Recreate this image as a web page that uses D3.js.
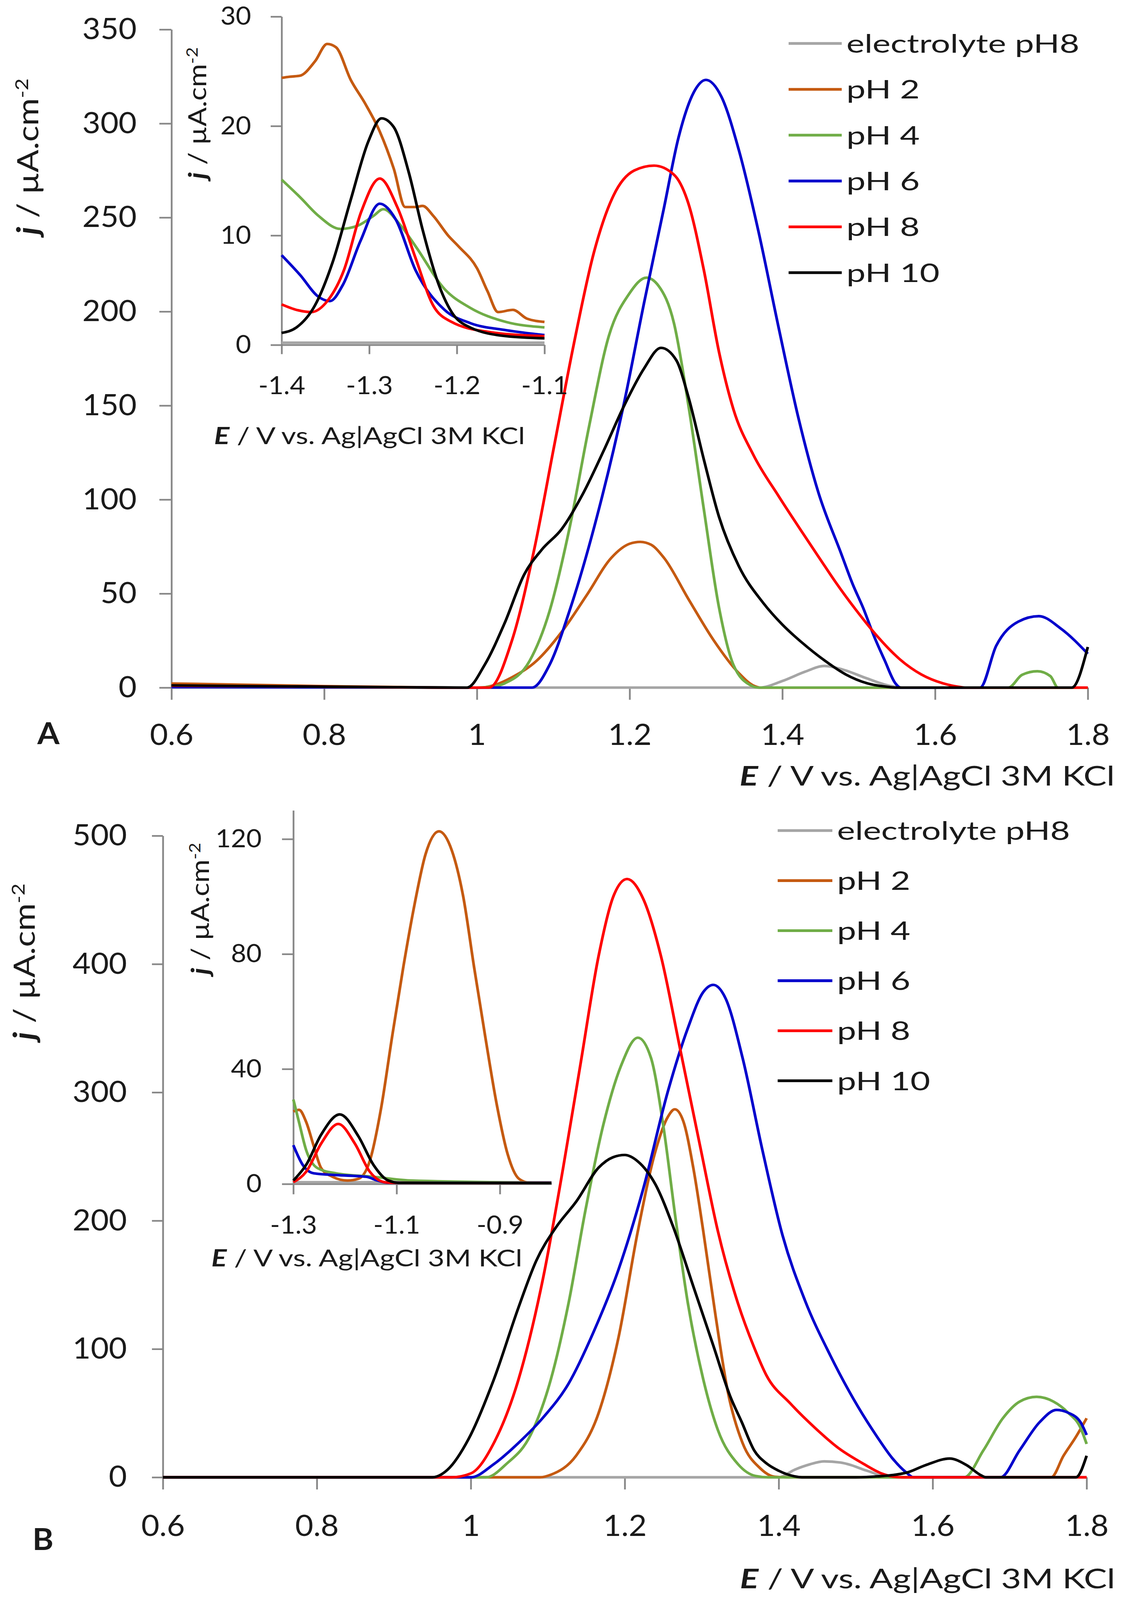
<!DOCTYPE html>
<html>
<head>
<meta charset="utf-8">
<script src="https://cdn.jsdelivr.net/npm/d3@7"></script>
<style>
  html, body { margin: 0; padding: 0; background: #fff; overflow: hidden; }
  svg { display: block; width: 100vw; height: 100vh; }
  text { font-family: Lato, "Open Sans", sans-serif; fill: #1a1a1a; }
</style>
</head>
<body>
<svg id="chart" viewBox="0 0 2870 4342" preserveAspectRatio="none"></svg>
<script>
// DPV curves, current density j (uA/cm2) vs potential E (V vs Ag|AgCl)

const seriesNames = ["electrolyte pH8", "pH 2", "pH 4", "pH 6", "pH 8", "pH 10"];
const seriesColors = ["#a5a5a5", "#c55a11", "#70ad47", "#0000cc", "#ff0000", "#000000"];

// ---- panel A, main plot (oxidation)
const aGray = [[0.6,0],[1.37,0],[1.40,3.5],[1.43,8.5],[1.455,11.5],[1.48,9.5],[1.51,5],[1.54,1],[1.56,0],[1.8,0]];
const aPH2 = [[0.6,2.2],[0.7,1.5],[0.8,0.8],[0.9,0.3],[0.97,0],[1.005,0],[1.02,1],[1.046,5.5],[1.078,14.2],[1.111,29.6],[1.144,49.3],[1.176,69],[1.2,76.5],[1.214,77.5],[1.228,76],[1.245,69],[1.277,47.1],[1.31,25.2],[1.343,7.7],[1.362,1.1],[1.372,0],[1.8,0]];
const aPH4 = [[0.6,0.5],[0.9,0.1],[1.0,0],[1.02,0.5],[1.036,2.2],[1.069,14.2],[1.095,40.5],[1.121,84.3],[1.147,139.1],[1.173,187.3],[1.199,209.2],[1.222,218],[1.238,213.6],[1.258,193.9],[1.277,150.1],[1.297,95.3],[1.317,42.7],[1.336,12],[1.359,1.1],[1.369,0],[1.696,0],[1.714,6.8],[1.734,8.7],[1.751,6.1],[1.761,0],[1.8,0]];
const aPH6 = [[0.6,0.3],[0.9,0.1],[1.0,0],[1.072,0],[1.095,12],[1.121,40.5],[1.16,95.3],[1.192,150],[1.219,204.8],[1.245,255.2],[1.264,292.5],[1.284,316.6],[1.3,323.2],[1.32,314.4],[1.343,285.9],[1.369,242.1],[1.395,191.7],[1.421,143.5],[1.447,104],[1.477,71.3],[1.492,55.1],[1.506,42.2],[1.52,27.4],[1.534,14.5],[1.548,2.3],[1.555,0],[1.659,0],[1.68,22.2],[1.709,35.1],[1.736,38],[1.765,31.3],[1.8,18]];
const aPH8 = [[0.6,1],[0.8,0.5],[0.95,0],[1.016,0],[1.046,25.2],[1.075,73.4],[1.101,128.2],[1.127,182.9],[1.153,231.1],[1.179,261.8],[1.206,275],[1.232,277.6],[1.258,272.8],[1.277,257.4],[1.297,222.4],[1.317,178.6],[1.336,147.9],[1.362,123.8],[1.395,101.9],[1.427,82],[1.45,68],[1.469,56.5],[1.497,41],[1.525,27],[1.554,15],[1.582,7],[1.61,2.3],[1.633,0.3],[1.64,0],[1.8,0]];
const aPH10 = [[0.6,1.2],[0.7,0.8],[0.8,0.5],[0.9,0.2],[0.987,0],[1.01,12],[1.036,34],[1.062,60.2],[1.085,73.4],[1.111,84.3],[1.14,104],[1.166,126],[1.193,150.1],[1.219,169.8],[1.241,180.7],[1.261,174.2],[1.277,154.5],[1.297,121.6],[1.317,90.9],[1.343,64.6],[1.375,45],[1.4,33.5],[1.427,23.5],[1.455,14.5],[1.483,7],[1.511,2.3],[1.54,0.3],[1.55,0],[1.779,0],[1.8,21.6]];

// ---- panel A, inset (reduction)
const aiGray = [[-1.4,0.2],[-1.1,0.2]];
const aiPH2 = [[-1.4,24.4],[-1.391,24.5],[-1.379,24.6],[-1.362,25.9],[-1.348,27.5],[-1.338,27.2],[-1.321,24.2],[-1.305,22.1],[-1.288,19.5],[-1.272,16.1],[-1.259,12.6],[-1.247,12.6],[-1.239,12.7],[-1.227,11.8],[-1.21,10],[-1.198,9],[-1.177,7],[-1.165,4.9],[-1.153,3],[-1.136,3.2],[-1.12,2.4],[-1.1,2.1]];
const aiPH4 = [[-1.4,15.1],[-1.379,13.5],[-1.358,11.8],[-1.333,10.6],[-1.313,10.9],[-1.295,11.8],[-1.284,12.4],[-1.265,11],[-1.247,9],[-1.214,5.1],[-1.185,3.4],[-1.144,2.1],[-1.1,1.6]];
const aiPH6 = [[-1.4,8.2],[-1.379,6.4],[-1.358,4.4],[-1.345,4],[-1.33,5.5],[-1.31,9.5],[-1.288,12.9],[-1.27,11.5],[-1.247,6.8],[-1.214,3.2],[-1.185,2],[-1.144,1.35],[-1.1,0.9]];
const aiPH8 = [[-1.4,3.7],[-1.383,3.2],[-1.366,3],[-1.35,3.8],[-1.329,6.8],[-1.309,12.2],[-1.288,15.2],[-1.268,12.6],[-1.247,7.9],[-1.227,3.6],[-1.206,2.1],[-1.165,1.2],[-1.1,0.8]];
const aiPH10 = [[-1.4,1.1],[-1.383,1.6],[-1.362,3.6],[-1.342,7.5],[-1.321,13.3],[-1.301,18.6],[-1.286,20.7],[-1.272,19.9],[-1.255,15.8],[-1.239,10.5],[-1.222,5.8],[-1.206,3],[-1.185,1.6],[-1.144,0.8],[-1.1,0.6]];

// ---- panel B, main plot
const bGray = [[0.6,0],[1.4,0],[1.421,6],[1.44,10],[1.459,12.4],[1.48,11.5],[1.494,9.5],[1.51,6],[1.522,3.6],[1.534,0.7],[1.545,0],[1.8,0]];
const bPH2 = [[0.6,0],[1.09,0],[1.104,2],[1.137,17],[1.166,50],[1.192,109.3],[1.217,191.8],[1.24,254.5],[1.256,280.9],[1.265,286.8],[1.276,277.6],[1.289,241.3],[1.302,191.8],[1.318,125.8],[1.334,66.4],[1.353,26.8],[1.376,7],[1.395,0.4],[1.41,0],[1.754,0],[1.77,16.8],[1.786,31.4],[1.8,46]];
const bPH4 = [[0.6,0],[1.02,0],[1.046,10.3],[1.078,33.4],[1.104,76.3],[1.127,135.7],[1.149,208.3],[1.172,274.3],[1.195,320.5],[1.217,342.6],[1.234,327],[1.25,274.3],[1.266,201.7],[1.282,135.7],[1.302,76.3],[1.321,36.8],[1.347,10.3],[1.37,1],[1.386,0],[1.641,0],[1.666,21.1],[1.691,45.9],[1.713,59],[1.735,62.7],[1.757,59],[1.776,50.3],[1.792,38.6],[1.8,26]];
const bPH6 = [[0.6,0],[1.0,0],[1.03,10.3],[1.062,26.8],[1.094,46.6],[1.127,73],[1.159,112.6],[1.192,162.1],[1.224,224.8],[1.256,300.7],[1.282,350.1],[1.302,378.2],[1.315,383.8],[1.331,373.2],[1.353,327],[1.379,254.5],[1.405,188.5],[1.434,138],[1.467,95],[1.503,55],[1.528,31.4],[1.547,15.3],[1.566,3.6],[1.575,0],[1.688,0],[1.713,21.1],[1.739,43],[1.761,52.5],[1.776,50.3],[1.792,43],[1.8,33]];
const bPH8 = [[0.6,0],[0.975,0],[1.0,3],[1.03,26.8],[1.062,76.3],[1.094,155.5],[1.12,241.3],[1.143,323.8],[1.166,406.2],[1.185,452.4],[1.203,466.3],[1.224,450.8],[1.247,406.2],[1.272,333.7],[1.298,257.8],[1.321,191.8],[1.347,135.7],[1.368,101.3],[1.384,79.5],[1.415,57.6],[1.447,38.6],[1.478,22.6],[1.509,10.9],[1.534,2.9],[1.547,0.7],[1.56,0],[1.8,0]];
const bPH10 = [[0.6,0],[0.95,0],[0.97,6],[0.997,29.7],[1.03,76.3],[1.062,132.4],[1.085,168.7],[1.111,195.1],[1.137,214.9],[1.166,241.3],[1.185,249.5],[1.2,251.2],[1.217,246.2],[1.24,228.1],[1.263,195.1],[1.289,148.9],[1.315,102.7],[1.337,63.1],[1.352,43],[1.368,21.1],[1.384,10.9],[1.4,5.1],[1.421,0.7],[1.43,0],[1.5,0],[1.528,0.7],[1.566,3.6],[1.591,9.5],[1.622,14.6],[1.644,9.5],[1.663,1.5],[1.669,0],[1.786,0],[1.8,16.8]];

// ---- panel B, inset
const biGray = [[-1.3,0.6],[-0.8,0.6]];
const biPH2 = [[-1.3,25.2],[-1.289,25.8],[-1.275,21.5],[-1.26,12.9],[-1.246,5.5],[-1.224,2.5],[-1.195,1.2],[-1.174,1.8],[-1.152,8],[-1.13,26.4],[-1.109,50.9],[-1.087,75.5],[-1.065,97.5],[-1.044,114.7],[-1.018,122.7],[-0.993,116],[-0.971,100],[-0.95,75.5],[-0.928,50.9],[-0.906,27.6],[-0.885,10.4],[-0.863,1.8],[-0.842,0.4],[-0.8,0.4]];
const biPH4 = [[-1.3,29.4],[-1.289,21.5],[-1.275,11.7],[-1.253,5.5],[-1.217,3.7],[-1.145,2.5],[-1.073,1.2],[-0.8,0.4]];
const biPH6 = [[-1.3,13.5],[-1.282,6.7],[-1.26,3.7],[-1.217,3.1],[-1.159,2.5],[-1.137,1.2],[-1.116,0.4],[-0.8,0.4]];
const biPH8 = [[-1.3,0.6],[-1.275,4.3],[-1.246,14.1],[-1.213,20.9],[-1.181,14.1],[-1.152,4.3],[-1.123,0.6],[-1.109,0.4],[-0.8,0.3]];
const biPH10 = [[-1.3,1.2],[-1.275,6.7],[-1.246,17.2],[-1.21,24.2],[-1.174,16.6],[-1.145,6.7],[-1.116,1.2],[-1.094,0.4],[-0.8,0.3]];

// ---- ticks
const mainTicksE = [0.6, 0.8, 1.0, 1.2, 1.4, 1.6, 1.8];
const aTicksJ = [0, 50, 100, 150, 200, 250, 300, 350];
const bTicksJ = [0, 100, 200, 300, 400, 500];
const aiTicksE = [-1.4, -1.3, -1.2, -1.1];
const aiTicksJ = [0, 10, 20, 30];
const biTicksE = [-1.3, -1.1, -0.9];
const biTicksJ = [0, 40, 80, 120];

const AXIS = "#878787";
const TEXT = "#1a1a1a";
const svg = d3.select("#chart");

function axes(g, x, y, xTicks, yTicks, o) {
  const ya = d3.axisLeft(y).tickValues(yTicks).tickSize(o.yTick).tickSizeOuter(0)
    .tickPadding(o.yPad).tickFormat(d => d);
  const xa = d3.axisBottom(x).tickValues(xTicks).tickSize(o.xTick).tickSizeOuter(0)
    .tickPadding(o.xPad).tickFormat(d => String(+d.toFixed(1)));
  const yg = g.append("g").attr("transform", `translate(${x.range()[0]},0)`).call(ya);
  const xg = g.append("g").attr("transform", `translate(0,${y(0)})`).call(xa);
  [yg, xg].forEach(a => {
    a.attr("font-family", null).attr("font-size", null);
    a.select(".domain").attr("stroke", AXIS).attr("stroke-width", 4.5);
    a.selectAll(".tick line").attr("stroke", AXIS).attr("stroke-width", 4.5);
    a.selectAll(".tick text").attr("fill", TEXT).style("font-size", o.fs + "px");
  });
}

function curves(g, x, y, data) {
  const line = d3.line().x(d => x(d[0])).y(d => y(d[1])).curve(d3.curveMonotoneX);
  g.append("g").selectAll("path").data(data).join("path")
    .attr("d", line)
    .attr("fill", "none")
    .attr("stroke", (d, i) => seriesColors[i])
    .attr("stroke-width", 7)
    .attr("stroke-linejoin", "round");
}

// text with optional bold-italic lead letter and superscript tail
function label(g, x, y, parts, o) {
  const t = g.append("text")
    .attr("transform", `translate(${x},${y})` + (o.rotate ? " rotate(-90)" : "") + ` scale(${o.sx || 1},1)`)
    .attr("text-anchor", o.anchor || "middle")
    .attr("dy", "0.36em")
    .style("font-size", o.size + "px")
    .style("font-weight", o.bold ? "bold" : null);
  parts.forEach(p => {
    const s = t.append("tspan").text(p.t);
    if (p.bi) s.style("font-weight", "bold").style("font-style", "italic");
    if (p.sup) s.attr("dy", "-0.55em").style("font-size", "62%");
  });
  return t;
}

const yTitle = [{t: "j", bi: true}, {t: " / µA.cm"}, {t: "-2", sup: true}];
const xTitle = [{t: "E", bi: true}, {t: " / V vs. Ag|AgCl 3M KCl"}];

function legend(g, x1, x2, y0, dy, fs) {
  const rows = g.append("g").selectAll("g").data(seriesNames).join("g")
    .attr("transform", (d, i) => `translate(0,${y0 + i * dy})`);
  rows.append("line").attr("x1", x1).attr("x2", x2)
    .attr("stroke", (d, i) => seriesColors[i]).attr("stroke-width", 7.5);
  rows.each(function (d) {
    label(d3.select(this), x2 + 12, 0, [{t: d}], {size: fs, anchor: "start", sx: 1.25});
  });
}

// ================= panel A
const xA = d3.scaleLinear([0.6, 1.8], [439, 2785]);
const yA = d3.scaleLinear([0, 350], [1866, 80]);
const xAi = d3.scaleLinear([-1.4, -1.1], [721, 1394]);
const yAi = d3.scaleLinear([0, 30], [936, 45]);

const gA = svg.append("g");
axes(gA, xA, yA, mainTicksE, aTicksJ, {yTick: 31, yPad: 58, xTick: 33, xPad: 66, fs: 80});
curves(gA, xA, yA, [aGray, aPH2, aPH4, aPH6, aPH8, aPH10]);
axes(gA, xAi, yAi, aiTicksE, aiTicksJ, {yTick: 28, yPad: 50, xTick: 25, xPad: 60, fs: 68});
curves(gA, xAi, yAi, [aiGray, aiPH2, aiPH4, aiPH6, aiPH8, aiPH10]);
legend(gA, 2019, 2155, 118, 124.4, 70);
label(gA, 71, 425, yTitle, {size: 76, rotate: true, sx: 1.2});
label(gA, 505, 307, yTitle, {size: 64, rotate: true, sx: 1.2});
label(gA, 2854, 2105, xTitle, {size: 74, anchor: "end", sx: 1.2});
label(gA, 548, 1182, xTitle, {size: 64, anchor: "start", sx: 1.15});
label(gA, 124, 1990, [{t: "A"}], {size: 82, bold: true});

// ================= panel B
const xB = d3.scaleLinear([0.6, 1.8], [417, 2782]);
const yB = d3.scaleLinear([0, 500], [4009, 2268]);
const xBi = d3.scaleLinear([-1.3, -0.8], [751, 1412]);
const yBi = d3.scaleLinear([0, 130], [3213, 2199]);

const gB = svg.append("g");
axes(gB, xB, yB, mainTicksE, bTicksJ, {yTick: 28, yPad: 64, xTick: 33, xPad: 69, fs: 80});
curves(gB, xB, yB, [bGray, bPH2, bPH4, bPH6, bPH8, bPH10]);
axes(gB, xBi, yBi, biTicksE, biTicksJ, {yTick: 29, yPad: 52, xTick: 28, xPad: 58, fs: 68});
curves(gB, xBi, yBi, [biGray, biPH2, biPH4, biPH6, biPH8, biPH10]);
legend(gB, 1991, 2131, 2254, 135.8, 70);
label(gB, 62, 2610, yTitle, {size: 76, rotate: true, sx: 1.2});
label(gB, 512, 2466, yTitle, {size: 64, rotate: true, sx: 1.2});
label(gB, 2855, 4284, xTitle, {size: 74, anchor: "end", sx: 1.2});
label(gB, 541, 3414, xTitle, {size: 64, anchor: "start", sx: 1.15});
label(gB, 110, 4177, [{t: "B"}], {size: 82, bold: true});
</script>
</body>
</html>
